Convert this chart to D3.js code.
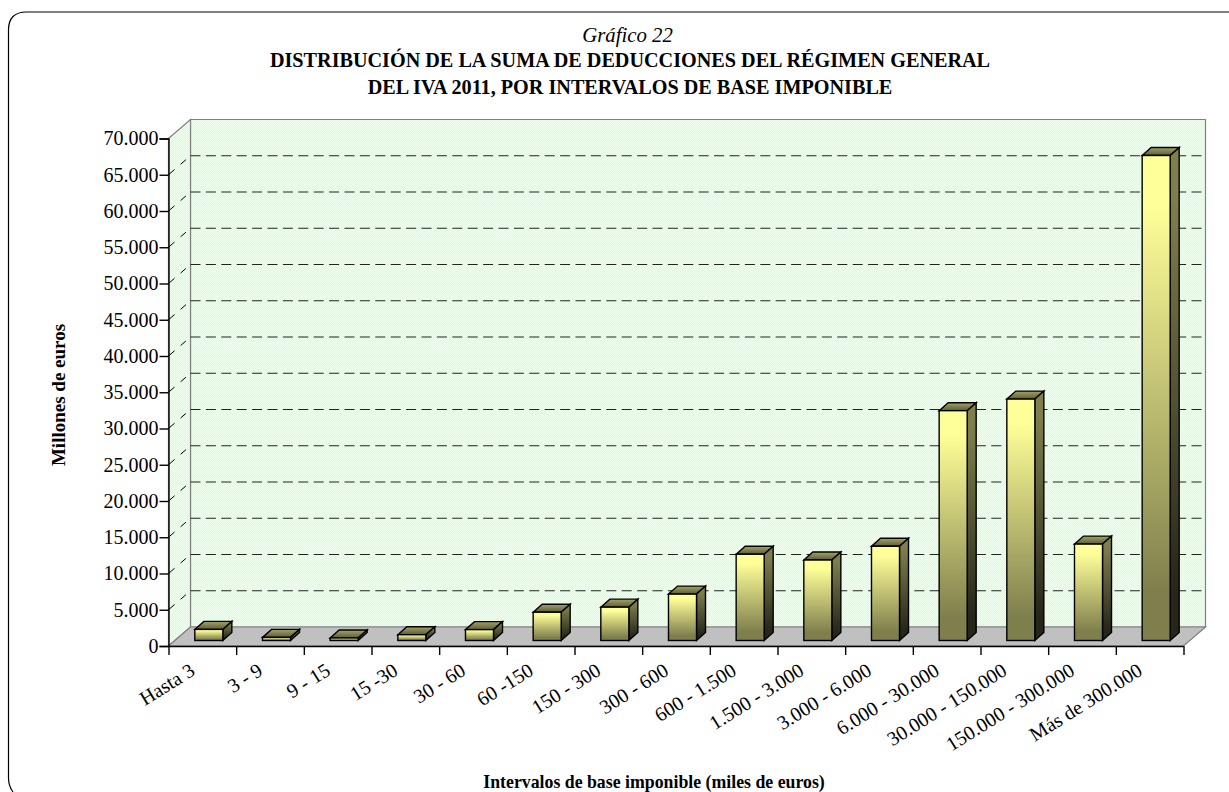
<!DOCTYPE html>
<head>
  <meta charset="utf-8">
  <script src="https://d3js.org/d3.v7.min.js"></script>
  <style>
    body { margin:0; background:#fff; }
    svg { display:block; }
    text { font-family:"Liberation Serif", serif; fill:#000; }
  </style>
</head>
<body>
  <svg width="1229" height="792"></svg>
  <script>
    var categories = ["Hasta 3", "3 - 9", "9 - 15", "15 -30", "30 - 60", "60 -150", "150 - 300", "300 - 600",
      "600 - 1.500", "1.500 - 3.000", "3.000 - 6.000", "6.000 - 30.000", "30.000 - 150.000",
      "150.000 - 300.000", "Más de 300.000"];
    var deducciones = [1530, 430, 350, 800, 1500, 3900, 4600, 6400, 11900, 11100, 13000, 31700, 33300, 13300, 66900];
    var yTicks = d3.range(0, 70001, 5000);
    var titleLines = ["DISTRIBUCIÓN DE LA SUMA DE DEDUCCIONES DEL RÉGIMEN GENERAL",
      "DEL IVA 2011, POR INTERVALOS DE BASE IMPONIBLE"];

    var svg = d3.select("svg");
    var left = 168.5, right = 1183.5, top0 = 138.5, bottom = 646;
    var depthX = 22, depthY = 19;      // shift of the back wall
    var barDX = 9, barDY = 8;          // depth of one bar
    var offX = (depthX - barDX) / 2, offY = (depthY - barDY) / 2;

    var x = d3.scaleBand().domain(categories).range([left, right]).paddingInner(0.586).paddingOuter(0.293);
    var y = d3.scaleLinear().domain([0, 70000]).range([bottom, top0]);
    var fmt = function (d) { return d3.format(",")(d).replace(/,/g, "."); };

    var defs = svg.append("defs");
    // dither of the back wall
    var pat = defs.append("pattern").attr("id", "dither").attr("width", 2).attr("height", 2)
      .attr("patternUnits", "userSpaceOnUse");
    pat.append("rect").attr("width", 2).attr("height", 2).attr("fill", "#d6ffd6");
    pat.append("rect").attr("width", 1).attr("height", 1).attr("fill", "#eeffee");
    pat.append("rect").attr("x", 1).attr("y", 1).attr("width", 1).attr("height", 1).attr("fill", "#eeffee");

    function grad(id, x2, y2, stops) {
      var g = defs.append("linearGradient").attr("id", id)
        .attr("x1", 0).attr("y1", 0).attr("x2", x2).attr("y2", y2);
      stops.forEach(function (s) { g.append("stop").attr("offset", s[0]).attr("stop-color", s[1]); });
    }
    grad("front", 0, 1, [[0, "#ffff99"], [0.1, "#ffff99"], [0.9, "#7f7f4d"], [1, "#7f7f4d"]]);
    grad("side", 0, 1, [[0, "#7f7f4d"], [0.1, "#7f7f4d"], [0.9, "#26261a"], [1, "#26261a"]]);
    grad("topFace", 0, 1, [[0, "#a3a366"], [1, "#5c5c38"]]);

    // outer frame, runs off the bottom and the right
    svg.append("path")
      .attr("d", "M13,792Q8.5,786 8.5,778V30Q8.5,12 26.5,12H1229")
      .attr("fill", "none").attr("stroke", "#000").attr("stroke-width", 1.2);

    // walls and floor
    function poly(pts) { return "M" + pts.map(function (p) { return p.join(","); }).join("L") + "Z"; }
    svg.append("path").attr("fill", "url(#dither)").attr("stroke", "#808080").attr("stroke-width", 1.2)
      .attr("d", poly([[left + depthX, top0 - depthY], [right + depthX, top0 - depthY], [right + depthX, bottom - depthY], [left + depthX, bottom - depthY]]));
    svg.append("path").attr("fill", "url(#dither)").attr("stroke", "#808080").attr("stroke-width", 1.2)
      .attr("d", poly([[left, top0], [left + depthX, top0 - depthY], [left + depthX, bottom - depthY], [left, bottom]]));
    svg.append("path").attr("fill", "#c0c0c0").attr("stroke", "#808080").attr("stroke-width", 1.2)
      .attr("d", poly([[left, bottom], [left + depthX, bottom - depthY], [right + depthX, bottom - depthY], [right, bottom]]));

    // gridlines on the back wall and their dashes along the side wall
    var gridVals = yTicks.filter(function (d) { return d > 0 && d < 70000; });
    svg.append("g").selectAll("line").data(gridVals).enter().append("line")
      .attr("x1", left + depthX).attr("x2", right + depthX)
      .attr("y1", function (d) { return y(d) - depthY; }).attr("y2", function (d) { return y(d) - depthY; })
      .attr("stroke", "#222").attr("stroke-width", 1).attr("stroke-dasharray", "10 5.4");
    svg.append("g").selectAll("line").data(gridVals).enter().append("line")
      .attr("x1", left).attr("x2", left + depthX)
      .attr("y1", function (d) { return y(d); }).attr("y2", function (d) { return y(d) - depthY; })
      .attr("stroke", "#000").attr("stroke-width", 1).attr("stroke-dasharray", "8 8 7 6");

    // bars
    var bars = svg.append("g").selectAll("g").data(categories).enter().append("g")
      .attr("stroke", "#000").attr("stroke-width", 1.4).attr("stroke-linejoin", "miter");
    function fx(d) { return x(d) + offX; }
    function by() { return bottom - offY; }
    function ty(d, i) { return by() - (bottom - y(deducciones[i])); }
    bars.append("path").attr("fill", "url(#topFace)")
      .attr("d", function (d, i) {
        var x0 = fx(d), w = x.bandwidth(), t = ty(d, i);
        return poly([[x0, t], [x0 + barDX, t - barDY], [x0 + w + barDX, t - barDY], [x0 + w, t]]);
      });
    bars.append("path").attr("fill", "url(#side)")
      .attr("d", function (d, i) {
        var x0 = fx(d) + x.bandwidth(), t = ty(d, i);
        return poly([[x0, t], [x0 + barDX, t - barDY], [x0 + barDX, by() - barDY], [x0, by()]]);
      });
    bars.append("rect").attr("fill", "url(#front)")
      .attr("x", fx).attr("width", x.bandwidth())
      .attr("y", ty).attr("height", function (d, i) { return by() - ty(d, i); });

    // y axis
    var yAxis = svg.append("g").attr("transform", "translate(" + left + ",0)")
      .call(d3.axisLeft(y).tickValues(yTicks).tickFormat(fmt).tickSize(9).tickPadding(1));
    yAxis.selectAll("path,line").attr("stroke", "#000").attr("stroke-width", 1.4);
    yAxis.selectAll("text").attr("font-size", 20).style("font-family", "Liberation Serif");

    // x axis, ticks sit on the band edges
    var edges = d3.scaleLinear().domain([0, categories.length]).range([left, right]);
    var xAxis = svg.append("g").attr("transform", "translate(0," + bottom + ")")
      .call(d3.axisBottom(edges).tickValues(d3.range(categories.length + 1)).tickFormat("").tickSize(9).tickSizeOuter(0));
    xAxis.selectAll("path,line").attr("stroke", "#000").attr("stroke-width", 1.4);

    svg.append("g").selectAll("text").data(categories).enter().append("text")
      .attr("text-anchor", "end").attr("font-size", 20)
      .attr("transform", function (d) {
        return "translate(" + (x(d) + x.bandwidth() / 2 - 6) + ",674) rotate(-32)";
      })
      .text(function (d) { return d; });

    // titles
    svg.append("text").attr("x", 627.5).attr("y", 42).attr("text-anchor", "middle")
      .attr("font-size", 20.8).attr("font-style", "italic").text("Gráfico 22");
    svg.append("g").selectAll("text").data(titleLines).enter().append("text")
      .attr("x", 630).attr("y", function (d, i) { return 67 + i * 27; }).attr("text-anchor", "middle")
      .attr("font-size", 20.2).attr("font-weight", "bold").text(function (d) { return d; });
    svg.append("text").attr("transform", "translate(65,395) rotate(-90)").attr("text-anchor", "middle")
      .attr("font-size", 19).attr("font-weight", "bold").text("Millones de euros");
    svg.append("text").attr("x", 654).attr("y", 788).attr("text-anchor", "middle")
      .attr("font-size", 17.8).attr("font-weight", "bold").text("Intervalos de base imponible (miles de euros)");
  </script>
</body>
